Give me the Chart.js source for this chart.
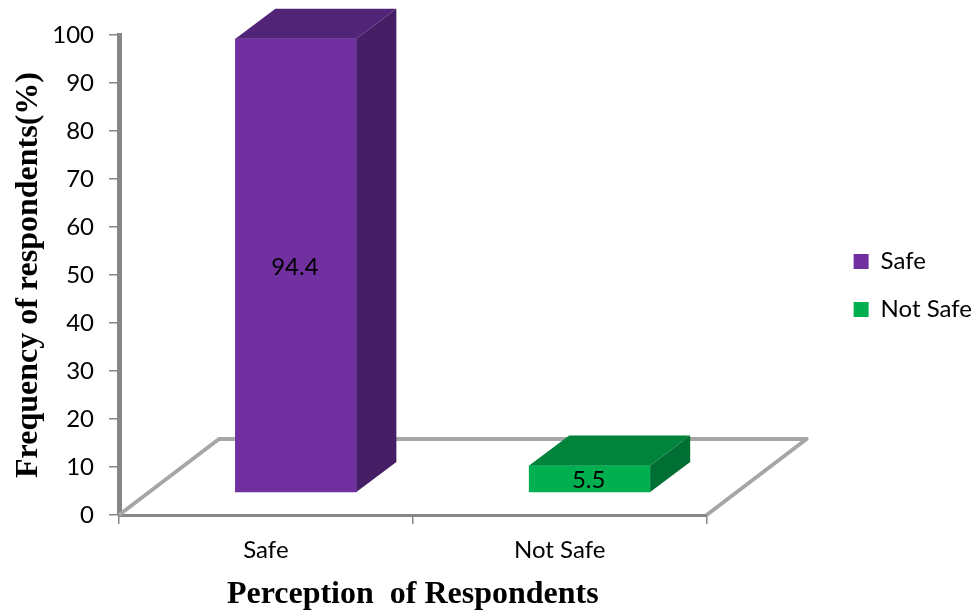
<!DOCTYPE html>
<html>
<head>
<meta charset="utf-8">
<title>Perception of Respondents</title>
<script src="https://cdn.jsdelivr.net/npm/chart.js@4/dist/chart.umd.js"></script>
<style>
  html, body { margin: 0; padding: 0; background: #fff; }
  canvas { display: block; }
</style>
</head>
<body>
<canvas id="chart" width="979" height="612"></canvas>
<script>
const categories = ["Safe", "Not Safe"];
const safeValues = [94.4];
const notSafeValues = [5.5];
const yAxisTitle = "Frequency of respondents(%)";
const xAxisTitle = "Perception  of Respondents";

const LABEL_FONT = "Lato, sans-serif";
const TITLE_FONT = "'Liberation Serif', serif";
const AXIS_GREY = "#868686";
const FLOOR_GREY = "#a6a6a6";

// 3d look: bars sit forward of the axes, on the floor
const DEPTH_X = 40;
const DEPTH_Y = 30;
const FLOOR_X = 100;
const FLOOR_Y = 76;
const BAR_SHIFT = 0.102;   // category units
const BAR_LIFT = 4.8;      // axis units

const faces = {
  Safe: { top: "#522478", side: "#451e66" },
  "Not Safe": { top: "#00843c", side: "#006f33" },
};

const fakeThreeD = {
  id: "fakeThreeD",
  afterLayout(chart) {
    chart.legend.left += 3;
    chart.legend.right += 3;
    chart.legend.top -= 38;
    chart.legend.bottom -= 38;
  },
  beforeDatasetsDraw(chart) {
    const { ctx, chartArea: a } = chart;
    ctx.save();
    ctx.strokeStyle = FLOOR_GREY;
    ctx.lineWidth = 4;
    ctx.lineJoin = "round";
    ctx.beginPath();
    ctx.moveTo(a.left, a.bottom);
    ctx.lineTo(a.left + FLOOR_X, a.bottom - FLOOR_Y);
    ctx.lineTo(a.right + FLOOR_X, a.bottom - FLOOR_Y);
    ctx.lineTo(a.right, a.bottom);
    ctx.stroke();
    ctx.restore();
  },
  afterDatasetsDraw(chart) {
    const { ctx } = chart;
    chart.data.datasets.forEach((ds, i) => {
      const bar = chart.getDatasetMeta(i).data[0];
      const { x, y, base, width } = bar.getProps(["x", "y", "base", "width"], true);
      const l = x - width / 2;
      const r = x + width / 2;
      ctx.save();
      ctx.fillStyle = faces[ds.label].top;
      ctx.beginPath();
      ctx.moveTo(l, y);
      ctx.lineTo(l + DEPTH_X, y - DEPTH_Y);
      ctx.lineTo(r + DEPTH_X, y - DEPTH_Y);
      ctx.lineTo(r, y);
      ctx.closePath();
      ctx.fill();
      ctx.fillStyle = faces[ds.label].side;
      ctx.beginPath();
      ctx.moveTo(r, y);
      ctx.lineTo(r + DEPTH_X, y - DEPTH_Y);
      ctx.lineTo(r + DEPTH_X, base - DEPTH_Y);
      ctx.lineTo(r, base);
      ctx.closePath();
      ctx.fill();
      ctx.fillStyle = "#000";
      ctx.font = "24px " + LABEL_FONT;
      ctx.textAlign = "center";
      ctx.textBaseline = "middle";
      ctx.fillText(String(ds.data[0].y), x - 1, (y + base) / 2 + 2);
      ctx.restore();
    });
  },
};

new Chart(document.getElementById("chart"), {
  type: "bar",
  data: {
    labels: categories,
    datasets: [
      {
        label: categories[0],
        data: safeValues.map((v) => ({ x: 0, y: v })),
        backgroundColor: "#7030a0",
        xAxisID: "xBars",
        yAxisID: "yBars",
      },
      {
        label: categories[1],
        data: notSafeValues.map((v) => ({ x: 1, y: v })),
        backgroundColor: "#00b050",
        xAxisID: "xBars",
        yAxisID: "yBars",
      },
    ],
  },
  options: {
    responsive: false,
    animation: false,
    grouped: false,
    barThickness: 121,
    layout: { padding: { top: 35, right: 0, left: 0, bottom: 0 } },
    plugins: {
      tooltip: { enabled: false },
      legend: {
        position: "right",
        labels: {
          boxWidth: 15,
          boxHeight: 15,
          padding: 24,
          color: "#000",
          font: { family: LABEL_FONT, size: 24 },
        },
      },
    },
    scales: {
      x: {
        type: "category",
        position: "bottom",
        offset: true,
        afterFit: (s) => { s.height = 97; },
        border: { color: AXIS_GREY, width: 3 },
        grid: { offset: true, drawOnChartArea: false, color: AXIS_GREY, lineWidth: 1.5, tickLength: 9 },
        ticks: { color: "#000", padding: 12, maxRotation: 0, font: { family: LABEL_FONT, size: 24 } },
        title: {
          display: true,
          text: xAxisTitle,
          color: "#000",
          padding: { top: 0, bottom: -2 },
          font: { family: TITLE_FONT, size: 32, weight: "bold" },
        },
      },
      y: {
        type: "linear",
        position: "left",
        min: 0,
        max: 100,
        afterFit: (s) => { s.width = 119; },
        border: { color: AXIS_GREY, width: 5 },
        grid: { drawOnChartArea: false, color: AXIS_GREY, lineWidth: 1.5, tickLength: 10 },
        ticks: { stepSize: 10, color: "#000", padding: 15, font: { family: LABEL_FONT, size: 24 } },
        title: {
          display: true,
          text: yAxisTitle,
          color: "#000",
          padding: { top: 10, bottom: 0 },
          font: { family: TITLE_FONT, size: 32, weight: "bold" },
        },
      },
      xBars: {
        type: "linear",
        display: false,
        offset: false,
        min: -0.5 - BAR_SHIFT,
        max: 1.5 - BAR_SHIFT,
      },
      yBars: {
        type: "linear",
        position: "right",
        min: -BAR_LIFT,
        max: 100 - BAR_LIFT,
        afterFit: (s) => { s.width = 120; },
        border: { display: false },
        grid: { display: false },
        ticks: { display: false },
      },
    },
  },
  plugins: [fakeThreeD],
});
</script>
</body>
</html>
